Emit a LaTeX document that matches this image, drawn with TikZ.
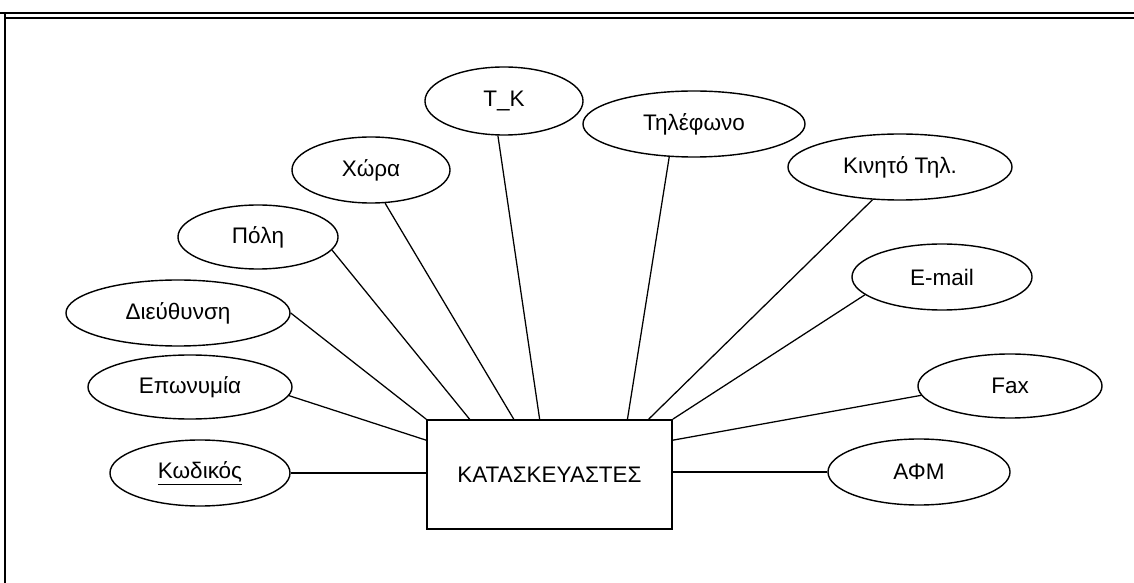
\documentclass[tikz,border=0pt]{standalone}
\usepackage{fontspec}
\setmainfont{Liberation Sans}
\usepackage{tikz}
\usetikzlibrary{shapes.geometric,calc}

\begin{document}
\begin{tikzpicture}[
    x=0.025cm, y=-0.025cm,
    entitybox/.style={
        draw=black,
        fill=white,
        line width=1.2pt,
        minimum width=6.125cm,
        minimum height=2.725cm,
        inner sep=0pt,
        font=\fontsize{16}{19}\selectfont
    },
    attrnode/.style={
        ellipse,
        draw=black,
        fill=white,
        line width=1pt,
        inner sep=0pt,
        font=\fontsize{16}{19}\selectfont
    },
    attrlink/.style={
        draw=black,
        line width=0.9pt
    }
]
    \useasboundingbox (0,0) rectangle (1134,583);

    % --- PAGE FRAME ---
    \draw[line width=1.3pt] (0,13) -- (1134,13);
    \draw[line width=1.6pt] (5,18) -- (1134,18);
    \draw[line width=1.1pt] (5,13) -- (5,583);

    % --- ENTITY ---
    \node[entitybox] (kat) at (549.5,474.5) {ΚΑΤΑΣΚΕΥΑΣΤΕΣ};

    % --- ATTRIBUTES (LEFT) ---
    \node[attrnode, minimum width=4.5cm, minimum height=1.65cm] (kod) at (200,473) {\underline{Κωδικός}};
    \node[attrnode, minimum width=5.1cm, minimum height=1.6cm] (epo) at (190,387) {Επωνυμία};
    \node[attrnode, minimum width=5.6cm, minimum height=1.65cm] (dieu) at (178,313) {Διεύθυνση};
    \node[attrnode, minimum width=4cm, minimum height=1.6cm] (poli) at (258,237) {Πόλη};
    \node[attrnode, minimum width=3.95cm, minimum height=1.65cm] (xora) at (371,170) {Χώρα};

    % --- ATTRIBUTES (TOP / RIGHT) ---
    \node[attrnode, minimum width=3.95cm, minimum height=1.7cm] (tk) at (504,101) {Τ\_Κ};
    \node[attrnode, minimum width=5.55cm, minimum height=1.65cm] (til) at (694,124) {Τηλέφωνο};
    \node[attrnode, minimum width=5.6cm, minimum height=1.65cm] (kin) at (900,167) {Κινητό Τηλ.};
    \node[attrnode, minimum width=4.5cm, minimum height=1.65cm] (email) at (942,277) {E-mail};
    \node[attrnode, minimum width=4.6cm, minimum height=1.6cm] (fax) at (1010,386) {Fax};
    \node[attrnode, minimum width=4.55cm, minimum height=1.65cm] (afm) at (919,472) {ΑΦΜ};

    % --- LINKS ---
    \draw[attrlink] (kod.east) -- (kod.east -| kat.west);
    \draw[attrlink] (epo.-5) -- ($(kat.north west)!0.19!(kat.south west)$);
    \draw[attrlink] (dieu.east) -- (kat.north west);
    \draw[attrlink] (poli.-10) -- ($(kat.north west)!0.176!(kat.north east)$);
    \draw[attrlink] (xora.-67) -- ($(kat.north west)!0.355!(kat.north east)$);
    \draw[attrlink] (tk.-100) -- ($(kat.north west)!0.46!(kat.north east)$);
    \draw[attrlink] (til.-127) -- ($(kat.north west)!0.816!(kat.north east)$);
    \draw[attrlink] (kin.-130) -- ($(kat.north west)!0.902!(kat.north east)$);
    \draw[attrlink] (email.-167) -- (kat.north east);
    \draw[attrlink] (fax.-174) -- ($(kat.north east)!0.19!(kat.south east)$);
    \draw[attrlink] (afm.west) -- (afm.west -| kat.east);
\end{tikzpicture}
\end{document}
